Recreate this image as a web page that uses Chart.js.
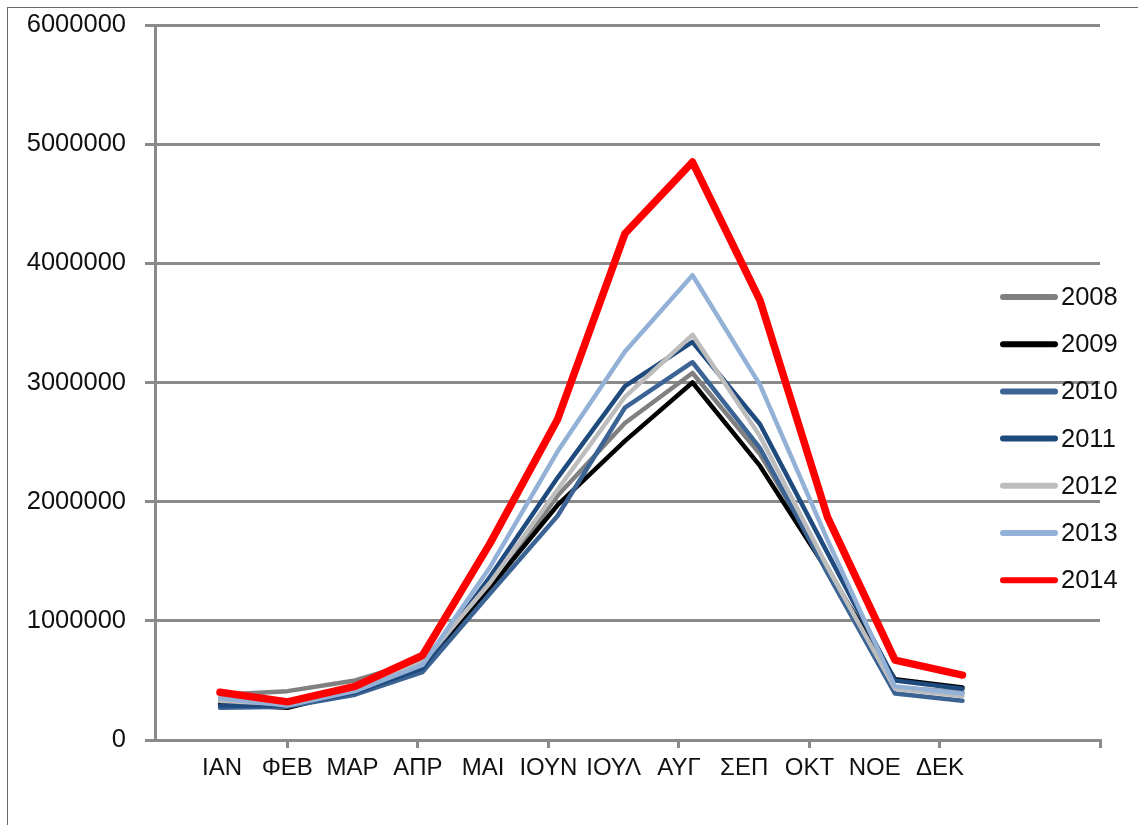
<!DOCTYPE html>
<html>
<head>
<meta charset="utf-8">
<script src="https://cdn.jsdelivr.net/npm/chart.js@4/dist/chart.umd.min.js"></script>
<style>
  html, body { margin: 0; padding: 0; background: #fff; }
  #wrap { position: relative; width: 1138px; height: 825px; overflow: hidden; }
  #frame { position: absolute; left: 7px; top: 7px; width: 1200px; height: 900px;
           border-left: 1px solid #6a6a6a; border-top: 1px solid #6a6a6a; pointer-events: none; }
  canvas { position: absolute; left: 0; top: 0; }
</style>
</head>
<body>
<div id="wrap">
  <canvas id="c" width="1138" height="825"></canvas>
  <div id="frame"></div>
</div>
<script>
// ---- data ----
const months = ['ΙΑΝ','ΦΕΒ','ΜΑΡ','ΑΠΡ','ΜΑΙ','ΙΟΥΝ','ΙΟΥΛ','ΑΥΓ','ΣΕΠ','ΟΚΤ','ΝΟΕ','ΔΕΚ'];
const years = ['2008','2009','2010','2011','2012','2013','2014'];
const y2008 = [380000, 410000, 500000, 670000, 1260000, 2050000, 2660000, 3080000, 2400000, 1450000, 440000, 400000];
const y2009 = [300000, 270000, 410000, 590000, 1280000, 1970000, 2510000, 3000000, 2300000, 1420000, 510000, 440000];
const y2010 = [270000, 280000, 380000, 570000, 1230000, 1880000, 2790000, 3170000, 2450000, 1400000, 390000, 330000];
const y2011 = [290000, 290000, 400000, 600000, 1370000, 2200000, 2970000, 3340000, 2650000, 1570000, 500000, 430000];
const y2012 = [330000, 300000, 420000, 650000, 1320000, 2100000, 2880000, 3400000, 2550000, 1450000, 430000, 370000];
const y2013 = [350000, 290000, 410000, 630000, 1450000, 2420000, 3260000, 3900000, 2980000, 1680000, 450000, 390000];
const y2014 = [400000, 320000, 450000, 710000, 1650000, 2690000, 4250000, 4850000, 3690000, 1870000, 670000, 545000];
const yTicks = [0, 1000000, 2000000, 3000000, 4000000, 5000000, 6000000];

const seriesValues = [y2008, y2009, y2010, y2011, y2012, y2013, y2014];
const colors = ['#808080', '#000000', '#3b6495', '#1f4a7e', '#bdbdbd', '#93b1d6', '#ff0000'];
const widths = [4.5, 4.5, 4.5, 4.5, 4.5, 4.5, 7.5];

const FONT = '"Liberation Sans", Arial, sans-serif';
const GRID = '#8a8a8a';

const datasets = seriesValues.map((vals, k) => ({
  label: years[k],
  data: vals.map((v, i) => ({ x: i + 1, y: v })),
  borderColor: colors[k],
  backgroundColor: colors[k],
  borderWidth: widths[k],
  pointRadius: 0,
  tension: 0,
  fill: false,
  borderJoinStyle: 'round',
  borderCapStyle: 'round',
  order: seriesValues.length - k,
  xAxisID: 'x',
  yAxisID: 'y'
}));

const legendPlugin = {
  id: 'customLegend',
  afterDraw(chart) {
    const ctx = chart.ctx;
    ctx.save();
    ctx.font = '25.5px ' + FONT;
    ctx.textBaseline = 'middle';
    ctx.textAlign = 'left';
    chart.data.datasets.forEach((ds, k) => {
      const y = 297 + k * 47.2;
      ctx.strokeStyle = ds.borderColor;
      ctx.lineWidth = 6;
      ctx.lineCap = 'round';
      ctx.beginPath();
      ctx.moveTo(1003, y);
      ctx.lineTo(1055, y);
      ctx.stroke();
      ctx.fillStyle = '#111';
      ctx.fillText(ds.label, 1061, y + 1);
    });
    ctx.restore();
  }
};

new Chart(document.getElementById('c'), {
  type: 'line',
  data: { datasets },
  plugins: [legendPlugin],
  options: {
    responsive: false,
    animation: false,
    layout: { padding: { left: 0, top: 25, right: 38, bottom: 0 } },
    plugins: { legend: { display: false }, tooltip: { enabled: false } },
    scales: {
      x: {
        type: 'linear',
        display: false,
        min: 1 - 65 / 67.5,
        max: 1 + 880 / 67.5
      },
      x2: {
        type: 'linear',
        position: 'bottom',
        min: 1 - 67 / 65.27,
        max: 1 + 878 / 65.27,
        afterFit(scale) { scale.height = 85; scale.paddingLeft = 0; scale.paddingRight = 0; },
        grid: {
          drawOnChartArea: false,
          drawTicks: true,
          tickLength: 8,
          lineWidth: 3,
          color(ctx) {
            const t = ctx.tick;
            if (!t) return 'transparent';
            const v = t.value;
            const r = Math.round(v);
            if (Math.abs(v - r) < 1e-6 && r % 2 === 0 && r >= 2 && r <= 12) return GRID;
            if (ctx.index === ctx.scale.ticks.length - 1) return GRID;
            return 'transparent';
          }
        },
        border: { display: true, color: GRID, width: 3 },
        ticks: {
          stepSize: 1,
          autoSkip: false,
          maxRotation: 0,
          minRotation: 0,
          padding: 6,
          color: '#111',
          font: { family: FONT, size: 24 },
          callback(value) {
            const r = Math.round(value);
            if (Math.abs(value - r) < 1e-6 && r >= 1 && r <= 12) return months[r - 1];
            return '';
          }
        }
      },
      y: {
        type: 'linear',
        position: 'left',
        min: yTicks[0],
        max: yTicks[yTicks.length - 1],
        afterFit(scale) { scale.width = 155; scale.paddingTop = 0; scale.paddingBottom = 0; },
        afterBuildTicks(scale) { scale.ticks = yTicks.map(v => ({ value: v })); },
        grid: {
          color: GRID,
          lineWidth: 3,
          drawTicks: true,
          tickLength: 10
        },
        border: { display: true, color: GRID, width: 3 },
        ticks: {
          padding: 19,
          color: '#111',
          font: { family: FONT, size: 25.5 },
          callback(value) { return String(value); }
        }
      }
    }
  }
});
</script>
</body>
</html>
